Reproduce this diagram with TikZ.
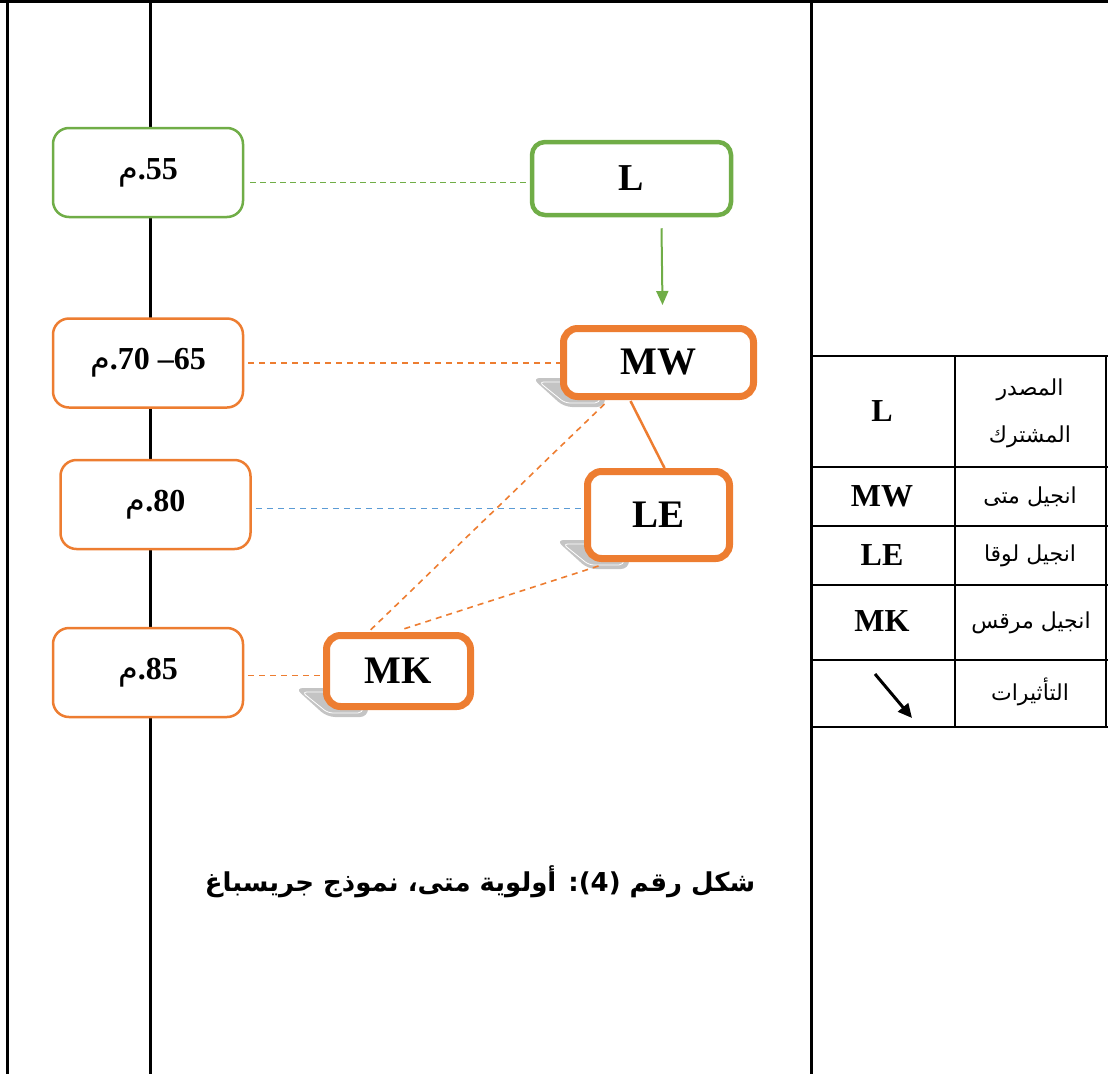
\documentclass[tikz,border=0pt]{standalone}
\usepackage{fontspec}
\setmainfont{Liberation Serif}
\newfontfamily\arabicfont[Script=Arabic]{DejaVu Sans}
\TeXXeTstate=1
\usetikzlibrary{arrows.meta,backgrounds}
\definecolor{cgreen}{HTML}{70AD47}
\definecolor{corange}{HTML}{ED7D31}
\definecolor{cblue}{HTML}{5B9BD5}
\definecolor{cshadow}{HTML}{C4C4C4}
\begin{document}
\begin{tikzpicture}[x=1pt,y=-1pt,
  tbox/.style={draw, fill=white, rounded corners=16pt, line width=2.5pt,
    minimum width=190pt, minimum height=89pt, inner sep=0pt,
    font=\fontsize{32}{36}\selectfont\bfseries},
  gbox/.style={tbox, draw=cgreen},
  obox/.style={tbox, draw=corange},
  lbox/.style={draw=cgreen, fill=white, rounded corners=13pt, line width=4.5pt,
    minimum width=199pt, minimum height=73pt, inner sep=0pt,
    font=\fontsize{38}{42}\selectfont\bfseries},
  bigbox/.style={draw=corange, fill=white, rounded corners=14pt, line width=7pt,
    inner sep=0pt, font=\fontsize{39}{44}\selectfont\bfseries},
  framel/.style={line width=3pt, black},
  tabl/.style={line width=2pt, black},
  tlat/.style={inner sep=0pt, font=\fontsize{32}{36}\selectfont\bfseries},
  tar/.style={inner sep=0pt, font=\arabicfont\fontsize{22}{26}\selectfont},
  gdash/.style={cgreen, line width=1.4pt, dash pattern=on 6pt off 4pt},
  odash/.style={corange, line width=1.6pt, dash pattern=on 6pt off 5pt},
  bdash/.style={cblue, line width=1.6pt, dash pattern=on 6pt off 5pt},
  shad/.style={fill=cshadow, rounded corners=8pt},
  shadline/.style={white, line width=0.8pt, rounded corners=5pt}
]
\useasboundingbox (0,0) rectangle (1108,1074);

% frame
\draw[framel] (0,1.5) -- (1108,1.5);
\draw[framel] (7,0) -- (7,1074);
\draw[framel] (150,0) -- (150,1074);
\draw[framel] (811,0) -- (811,1074);

% table
\foreach \yy in {356,467,526,585,660,727} \draw[tabl] (811,\yy) -- (1108,\yy);
\draw[tabl] (955,356) -- (955,727);
\draw[tabl] (1106,356) -- (1106,727);

\node[tlat] (kL) at (882,411) {L};
\node[tar] (vL1) at (1030,390) {\beginR المصدر\endR};
\node[tar] (vL2) at (1030,437) {\beginR المشترك\endR};
\node[tlat] (kMW) at (882,496) {MW};
\node[tar] (vMW) at (1030,497) {\beginR انجيل متى\endR};
\node[tlat] (kLE) at (882,555) {LE};
\node[tar] (vLE) at (1030,556) {\beginR انجيل لوقا\endR};
\node[tlat] (kMK) at (882,621) {MK};
\node[tar] (vMK) at (1031,623) {\beginR انجيل مرقس\endR};
\coordinate (a1) at (875,674);
\coordinate (a2) at (912,718);
\draw[line width=3pt, -{Triangle[length=14pt,width=13pt]}] (a1) -- (a2);
\node[tar] (vAr) at (1030,692) {\beginR التأثيرات\endR};

% time boxes
\node[gbox] (t55) at (148,172.5) {{\arabicfont\mdseries م}.55};
\node[obox] (t65) at (148,363) {{\arabicfont\mdseries م}.70 –65};
\node[obox] (t80) at (155.5,504.5) {{\arabicfont\mdseries م}.80};
\node[obox] (t85) at (148,672.5) {{\arabicfont\mdseries م}.85};

% gospel boxes
\node[lbox] (L) at (631.5,178.5) {L};
\node[bigbox, minimum width=190pt, minimum height=68pt] (MW) at (658.5,362.5) {MW};
\node[bigbox, minimum width=142pt, minimum height=87pt] (LE) at (658.5,515) {LE};
\node[bigbox, minimum width=144pt, minimum height=71pt] (MK) at (398.5,671) {MK};

\begin{pgfonlayer}{background}
  \foreach \n in {MW,LE,MK} {
    \fill[shad] ([shift={(-28,-22)}]\n.south west) -- ([shift={(45,-22)}]\n.south west)
      -- ([shift={(45,7)}]\n.south west) -- ([shift={(4,7)}]\n.south west) -- cycle;
    \draw[shadline] ([shift={(-21,-18)}]\n.south west) -- ([shift={(40,-18)}]\n.south west)
      -- ([shift={(40,3)}]\n.south west) -- ([shift={(5,3)}]\n.south west) -- cycle;
  }
\end{pgfonlayer}

% connectors
\draw[gdash] ([shift={(6,10)}]t55.east) -- ([shift={(0,10)}]t55.east -| L.west);
\draw[odash] ([xshift=4pt]t65.east) -- (t65.east -| MW.west);
\draw[bdash] ([shift={(4,4)}]t80.east) -- ([shift={(0,4)}]t80.east -| LE.west);
\draw[odash] ([shift={(4,3)}]t85.east) -- ([shift={(0,3)}]t85.east -| MK.west);
\draw[cgreen, line width=2pt, -{Triangle[length=14pt,width=12pt]}] ([shift={(30,11)}]L.south) -- ([shift={(4,-20)}]MW.north);
\draw[corange, line width=2.5pt] ([shift={(-28,1)}]MW.south) -- ([shift={(6,0)}]LE.north);
\draw[odash] ([shift={(-54,4)}]MW.south) -- ([shift={(-28,-2)}]MK.north);
\draw[odash] ([shift={(-60,4)}]LE.south) -- ([shift={(2,-2)}]MK.north);

% caption
\node[inner sep=0pt, font=\arabicfont\bfseries\fontsize{26}{30}\selectfont] (cap) at (480,882)
  {\beginR شكل رقم (4): أولوية متى، نموذج جريسباغ\endR};
\end{tikzpicture}
\end{document}
